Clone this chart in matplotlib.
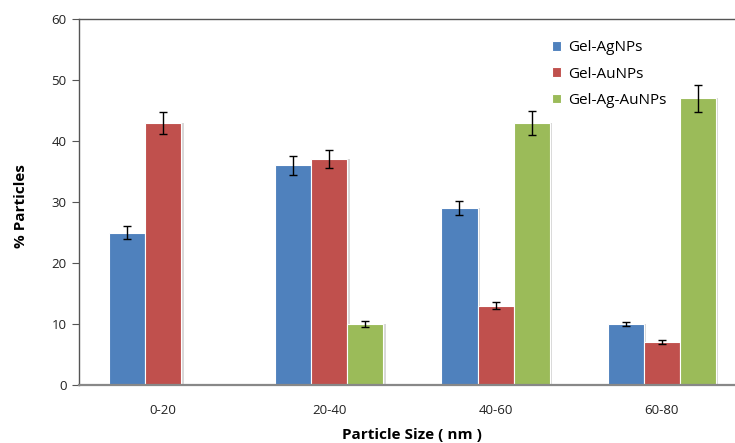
import numpy as np
import matplotlib.pyplot as plt
import matplotlib.transforms as mtransforms

plt.rcParams['font.family'] = ['Open Sans', 'DejaVu Sans']

sizes = ['0-20', '20-40', '40-60', '60-80']
ag = [25, 36, 29, 10]
au = [43, 37, 13, 7]
agau = [0, 10, 43, 47]
ag_err = [1.0, 1.5, 1.2, 0.4]
au_err = [1.8, 1.5, 0.55, 0.3]
agau_err = [0, 0.45, 2.0, 2.2]

series = [
    ('Gel-AgNPs', ag, ag_err, '#4F81BD'),
    ('Gel-AuNPs', au, au_err, '#C0504D'),
    ('Gel-Ag-AuNPs', agau, agau_err, '#9BBB59'),
]

fig = plt.figure(figsize=(7.35, 4.43), dpi=100)
ax = fig.add_axes([79/735, 1 - 385/443, 656/735, 366/443])

x = np.arange(len(sizes))
w = 0.217
# soft drop shadow to the right of each bar
shadow = mtransforms.offset_copy(ax.transData, fig=fig, x=2.5, y=0, units='dots')

for i, (name, vals, errs, col) in enumerate(series):
    pos = x + (i - 1) * w
    ax.bar(pos, vals, w, color='#d8d8d8', transform=shadow, zorder=1, linewidth=0)
    ax.bar(pos, vals, w, color=col, edgecolor='white', linewidth=0.8,
           label=name, zorder=2)
    e = [errs[k] if vals[k] > 0 else np.nan for k in range(len(vals))]
    ax.errorbar(pos, vals, yerr=e, fmt='none', ecolor='black', elinewidth=1,
                capsize=3, capthick=1, zorder=3)

ax.set_xlim(-0.505, 3.44)
ax.set_ylim(0, 60)
ax.set_yticks(range(0, 61, 10))
ax.set_xticks(x)
ax.set_xticklabels(sizes)
ax.tick_params(axis='x', length=0, pad=14, labelsize=9.5, labelcolor='#222222')
ax.tick_params(axis='y', length=5, width=0.8, color='#555555', pad=4,
               labelsize=9.5, labelcolor='#222222')

for s in ['left', 'top']:
    ax.spines[s].set_color('#555555')
    ax.spines[s].set_linewidth(1.0)
ax.spines['bottom'].set_color('#888888')
ax.spines['bottom'].set_linewidth(1.6)
ax.spines['right'].set_visible(False)

ax.set_ylabel('% Particles', fontsize=11, fontweight='bold')
ax.yaxis.set_label_coords(-(79 - 28) / 656, 0.49)
ax.set_xlabel('Particle Size ( nm )', fontsize=11, fontweight='bold')
ax.xaxis.set_label_coords((412 - 79) / 656, -0.117)

ax.legend(loc='upper left', bbox_to_anchor=(0.7, 0.98), frameon=False,
          fontsize=11, handlelength=0.6, handleheight=0.6, handletextpad=0.45,
          labelspacing=0.75)

fig.savefig('out.png', dpi=100)
